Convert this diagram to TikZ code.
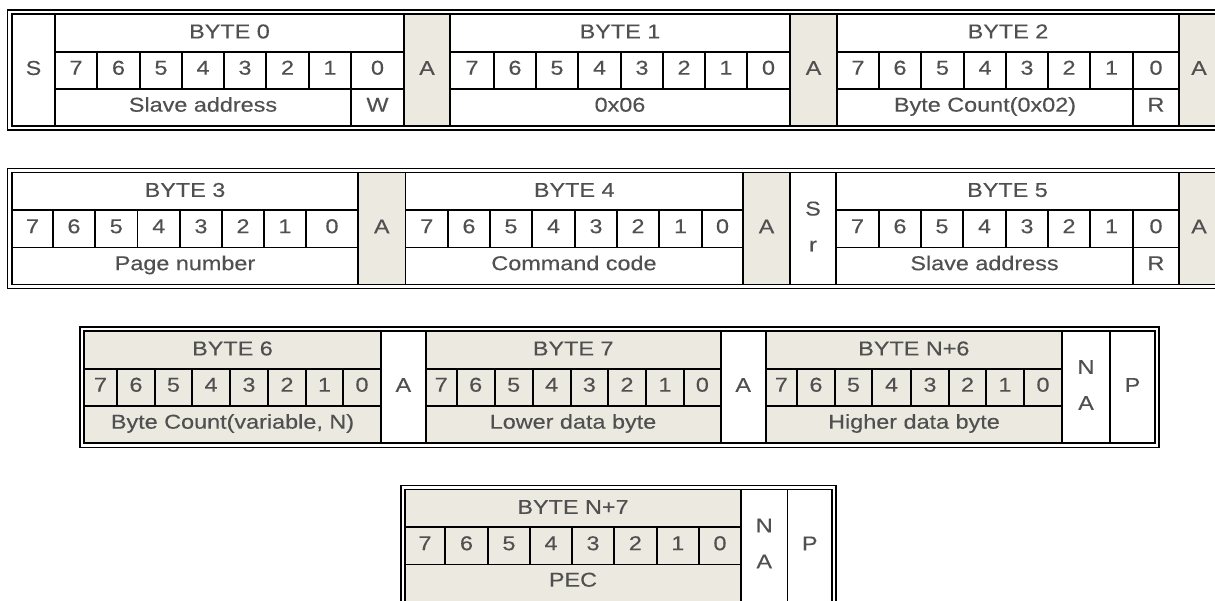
\documentclass[tikz,border=0pt]{standalone}
\usepackage{fontspec}
\setmainfont{Liberation Sans}[FakeStretch=1.17, FakeBold=0.25]
\usepackage{xcolor}
\definecolor{cellgray}{RGB}{236,233,224}
\definecolor{txtgray}{RGB}{80,80,80}
\tikzset{
  % Grid lines and double frame
  gridline/.style = {line width=1.7pt, draw=black},
  frameline/.style = {line width=1.7pt, draw=black},
  % Texts
  lab/.style   = {font=\fontsize{20}{36}\selectfont, text=txtgray, inner sep=0pt,
                  text height=14.3pt, text depth=0pt},
  stack/.style = {font=\fontsize{20}{36}\selectfont, text=txtgray, inner sep=0pt,
                  align=center},
}

\begin{document}
\begin{tikzpicture}[x=1pt, y=-1pt]
  \useasboundingbox (0,0) rectangle (1215,600);
  \clip (0,0) rectangle (1215,600);
  % Outer double frames
  \draw[frameline] (7.5,10) rectangle (1223,130);
  \draw[frameline] (7.5,168.5) rectangle (1223,288.5);
  \draw[frameline] (80,327) rectangle (1159,447.5);
  \draw[frameline] (401,485.5) rectangle (836,606);
  % Single cells (S, A, Sr, NA, P)
  \foreach \nm/\yt/\xa/\xb/\fc/\txt in {
      s0/14/12/55/white/S, a0/14/404/450/cellgray/A, a1/14/790/837/cellgray/A,
      a2/14/1179/1219/cellgray/A,
      a3/172.5/358/405.5/cellgray/A, a4/172.5/743/790/cellgray/A,
      sr/172.5/790/836/white/{S\\r}, a5/172.5/1179/1219/cellgray/A,
      a6/331/381/425.7/white/A, a7/331/720.7/765.7/white/A,
      na1/331/1062/1110/white/{N\\A}, p1/331/1110/1155/white/P,
      na2/489.5/741/787.5/white/{N\\A}, p2/489.5/787.5/832/white/P} {
    \fill[\fc] (\xa,\yt) rectangle (\xb,\yt+112);
    \draw[gridline] (\xa,\yt) rectangle (\xb,\yt+112);
    \node[stack] (\nm) at ({(\xa+\xb)/2},\yt+54) {\txt};
  }
  % Bytes: title row, bit row, label row
  \foreach \nm/\yt/\xa/\xb/\bits/\fc/\ttl in {
      b0/14/55/404/{97,140,182,224,266,309,351,404}/white/BYTE 0,
      b1/14/450/790/{494,536,578,621,663,705,747,790}/white/BYTE 1,
      b2/14/837/1179/{879,921,964,1006,1048,1090,1133,1179}/white/BYTE 2,
      b3/172.5/12/358/{53,95,137.5,180,222,264,306,358}/white/BYTE 3,
      b4/172.5/405.5/743/{448,490,532,575,617,659,702,743}/white/BYTE 4,
      b5/172.5/836/1179/{879,921,963,1006,1048,1090,1133,1179}/white/BYTE 5,
      b6/331/84/381/{117,155,192,230,268,306,343,381}/cellgray/BYTE 6,
      b7/331/425.7/720.7/{456.7,494.7,532.7,570.7,608,646,684,720.7}/cellgray/BYTE 7,
      b8/331/765.7/1062/{797,835,872,911,949,986,1024,1062}/cellgray/BYTE N+6,
      b9/489.5/405/741/{445,488,530,572,614,656.7,699,741}/cellgray/BYTE N+7} {
    \fill[\fc] (\xa,\yt) rectangle (\xb,\yt+112);
    \draw[gridline] (\xa,\yt) rectangle (\xb,\yt+112);
    \draw[gridline] (\xa,\yt+37.75) -- (\xb,\yt+37.75);
    \draw[gridline] (\xa,\yt+75) -- (\xb,\yt+75);
    \node[lab] (\nm-t) at ({(\xa+\xb)/2},\yt+17.2) {\ttl};
    \foreach \xx [count=\i, remember=\xx as \xp (initially \xa)] in \bits {
      \draw[gridline] (\xx,\yt+37.75) -- (\xx,\yt+75);
      \pgfmathtruncatemacro\bit{8-\i}
      \node[lab] (\nm-\bit) at ({(\xp+\xx)/2},\yt+53.5) {\bit};
    }
  }
  % Label row: split cells for W / R
  \draw[gridline] (351,89) -- (351,126);
  \draw[gridline] (1133,89) -- (1133,126);
  \draw[gridline] (1133,247.5) -- (1133,284.5);
  \node[lab] (b0-l) at (203,104.5) {Slave address};
  \node[lab] (b0-w) at (377.5,104.5) {W};
  \node[lab] (b1-l) at (620,104.5) {0x06};
  \node[lab] (b2-l) at (985,104.5) {Byte Count(0x02)};
  \node[lab] (b2-r) at (1156,104.5) {R};
  \node[lab] (b3-l) at (185,263) {Page number};
  \node[lab] (b4-l) at (574,263) {Command code};
  \node[lab] (b5-l) at (984.5,263) {Slave address};
  \node[lab] (b5-r) at (1156,263) {R};
  \node[lab] (b6-l) at (232.5,421.5) {Byte Count(variable, N)};
  \node[lab] (b7-l) at (573,421.5) {Lower data byte};
  \node[lab] (b8-l) at (914,421.5) {Higher data byte};
  \node[lab] (b9-l) at (573,579.5) {PEC};
\end{tikzpicture}
\end{document}
